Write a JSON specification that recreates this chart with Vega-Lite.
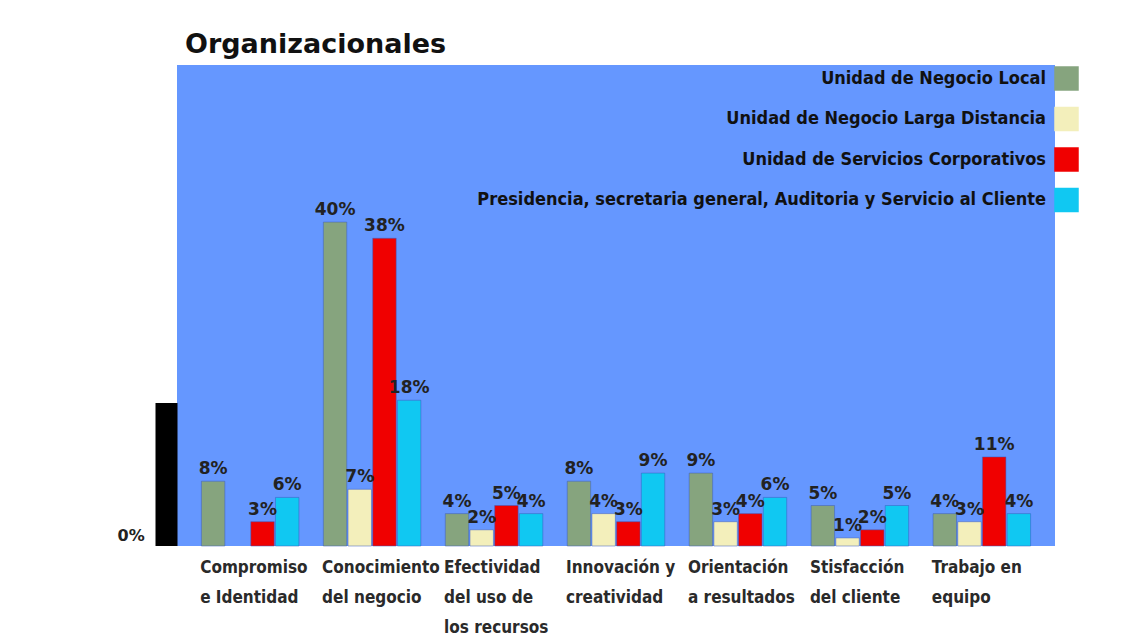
{
  "$schema": "https://vega.github.io/schema/vega-lite/v6.json",
  "width": 878,
  "height": 481,
  "autosize": {"type": "none"},
  "padding": {"left": 177, "top": 65, "right": 68, "bottom": 96},
  "background": "white",
  "title": {"text": "Organizacionales", "anchor": "start", "frame": "group", "font": "DejaVu Sans", "fontSize": 27, "fontWeight": "bold", "color": "#111111", "dx": 8, "dy": 26, "offset": 11, "baseline": "alphabetic"},
  "data": {
    "values": [
      {"cat": "Compromiso e Identidad", "serie": "Unidad de Negocio Local", "valor": 8},
      {"cat": "Compromiso e Identidad", "serie": "Unidad de Servicios Corporativos", "valor": 3},
      {"cat": "Compromiso e Identidad", "serie": "Presidencia, secretaria general, Auditoria y Servicio al Cliente", "valor": 6},
      {"cat": "Conocimiento del negocio", "serie": "Unidad de Negocio Local", "valor": 40},
      {"cat": "Conocimiento del negocio", "serie": "Unidad de Negocio Larga Distancia", "valor": 7},
      {"cat": "Conocimiento del negocio", "serie": "Unidad de Servicios Corporativos", "valor": 38},
      {"cat": "Conocimiento del negocio", "serie": "Presidencia, secretaria general, Auditoria y Servicio al Cliente", "valor": 18},
      {"cat": "Efectividad del uso de los recursos", "serie": "Unidad de Negocio Local", "valor": 4},
      {"cat": "Efectividad del uso de los recursos", "serie": "Unidad de Negocio Larga Distancia", "valor": 2},
      {"cat": "Efectividad del uso de los recursos", "serie": "Unidad de Servicios Corporativos", "valor": 5},
      {"cat": "Efectividad del uso de los recursos", "serie": "Presidencia, secretaria general, Auditoria y Servicio al Cliente", "valor": 4},
      {"cat": "Innovación y creatividad", "serie": "Unidad de Negocio Local", "valor": 8},
      {"cat": "Innovación y creatividad", "serie": "Unidad de Negocio Larga Distancia", "valor": 4},
      {"cat": "Innovación y creatividad", "serie": "Unidad de Servicios Corporativos", "valor": 3},
      {"cat": "Innovación y creatividad", "serie": "Presidencia, secretaria general, Auditoria y Servicio al Cliente", "valor": 9},
      {"cat": "Orientación a resultados", "serie": "Unidad de Negocio Local", "valor": 9},
      {"cat": "Orientación a resultados", "serie": "Unidad de Negocio Larga Distancia", "valor": 3},
      {"cat": "Orientación a resultados", "serie": "Unidad de Servicios Corporativos", "valor": 4},
      {"cat": "Orientación a resultados", "serie": "Presidencia, secretaria general, Auditoria y Servicio al Cliente", "valor": 6},
      {"cat": "Stisfacción del cliente", "serie": "Unidad de Negocio Local", "valor": 5},
      {"cat": "Stisfacción del cliente", "serie": "Unidad de Negocio Larga Distancia", "valor": 1},
      {"cat": "Stisfacción del cliente", "serie": "Unidad de Servicios Corporativos", "valor": 2},
      {"cat": "Stisfacción del cliente", "serie": "Presidencia, secretaria general, Auditoria y Servicio al Cliente", "valor": 5},
      {"cat": "Trabajo en equipo", "serie": "Unidad de Negocio Local", "valor": 4},
      {"cat": "Trabajo en equipo", "serie": "Unidad de Negocio Larga Distancia", "valor": 3},
      {"cat": "Trabajo en equipo", "serie": "Unidad de Servicios Corporativos", "valor": 11},
      {"cat": "Trabajo en equipo", "serie": "Presidencia, secretaria general, Auditoria y Servicio al Cliente", "valor": 4}
    ]
  },
  "transform": [{"calculate": "datum.valor + '%'", "as": "etiqueta"}],
  "encoding": {
    "x": {
      "field": "cat", "type": "nominal",
      "sort": ["Compromiso e Identidad", "Conocimiento del negocio", "Efectividad del uso de los recursos", "Innovación y creatividad", "Orientación a resultados", "Stisfacción del cliente", "Trabajo en equipo"],
      "scale": {"paddingInner": 0.2, "paddingOuter": 0.2},
      "axis": {
        "title": null, "domain": false, "ticks": false, "labelAngle": 0,
        "labelFont": "DejaVu Sans Condensed, Roboto, sans-serif", "labelFontSize": 17, "labelFontWeight": "bold", "labelColor": "#2a2a2a",
        "labelAlign": "left", "labelBaseline": "top", "labelOffset": -50, "labelPadding": 13, "labelLineHeight": 30,
        "labelOverlap": false, "labelBound": false, "labelLimit": 0,
        "labelExpr": "datum.label == 'Compromiso e Identidad' ? ['Compromiso', 'e Identidad'] : datum.label == 'Conocimiento del negocio' ? ['Conocimiento', 'del negocio'] : datum.label == 'Efectividad del uso de los recursos' ? ['Efectividad', 'del uso de', 'los recursos'] : datum.label == 'Innovación y creatividad' ? ['Innovación y', 'creatividad'] : datum.label == 'Orientación a resultados' ? ['Orientación', 'a resultados'] : datum.label == 'Stisfacción del cliente' ? ['Stisfacción', 'del cliente'] : ['Trabajo en', 'equipo']"
      }
    },
    "xOffset": {
      "field": "serie", "type": "nominal",
      "scale": {"domain": ["Unidad de Negocio Local", "Unidad de Negocio Larga Distancia", "Unidad de Servicios Corporativos", "Presidencia, secretaria general, Auditoria y Servicio al Cliente"], "paddingInner": 0.05}
    },
    "y": {
      "field": "valor", "type": "quantitative",
      "scale": {"domain": [0, 59.4], "nice": false},
      "axis": {
        "values": [8.83], "labels": false, "grid": false, "domain": false,
        "tickSize": 22, "tickWidth": 143, "tickColor": "black",
        "title": "0%", "titleAngle": 0, "titleX": -60, "titleY": 475, "titleAlign": "left", "titleBaseline": "alphabetic",
        "titleFont": "DejaVu Sans", "titleFontSize": 16, "titleFontWeight": "bold", "titleColor": "#222222"
      }
    }
  },
  "layer": [
    {
      "mark": {"type": "bar", "stroke": "#3B5CC0", "strokeWidth": 1, "strokeOpacity": 0.5},
      "encoding": {
        "color": {
          "field": "serie", "type": "nominal",
          "scale": {"domain": ["Unidad de Negocio Local", "Unidad de Negocio Larga Distancia", "Unidad de Servicios Corporativos", "Presidencia, secretaria general, Auditoria y Servicio al Cliente"], "range": ["#86A47E", "#F3EFBB", "#F00000", "#10C8F2"]},
          "legend": {
            "orient": "none", "legendX": 877, "legendY": 1, "direction": "vertical", "title": null,
            "symbolType": "square", "symbolSize": 600, "symbolStrokeWidth": 0, "symbolOpacity": 1,
            "labelAlign": "right", "labelOffset": -33, "rowPadding": 15.5, "labelLimit": 0,
            "labelFont": "DejaVu Sans Condensed, Roboto, sans-serif", "labelFontSize": 18, "labelFontWeight": "bold", "labelColor": "#111111"
          }
        }
      }
    },
    {
      "mark": {"type": "text", "baseline": "alphabetic", "dy": -7, "font": "DejaVu Sans", "fontSize": 17, "fontWeight": "bold", "color": "#222222"},
      "encoding": {"text": {"field": "etiqueta"}}
    }
  ],
  "config": {"view": {"fill": "#6597FF", "stroke": null}}
}
